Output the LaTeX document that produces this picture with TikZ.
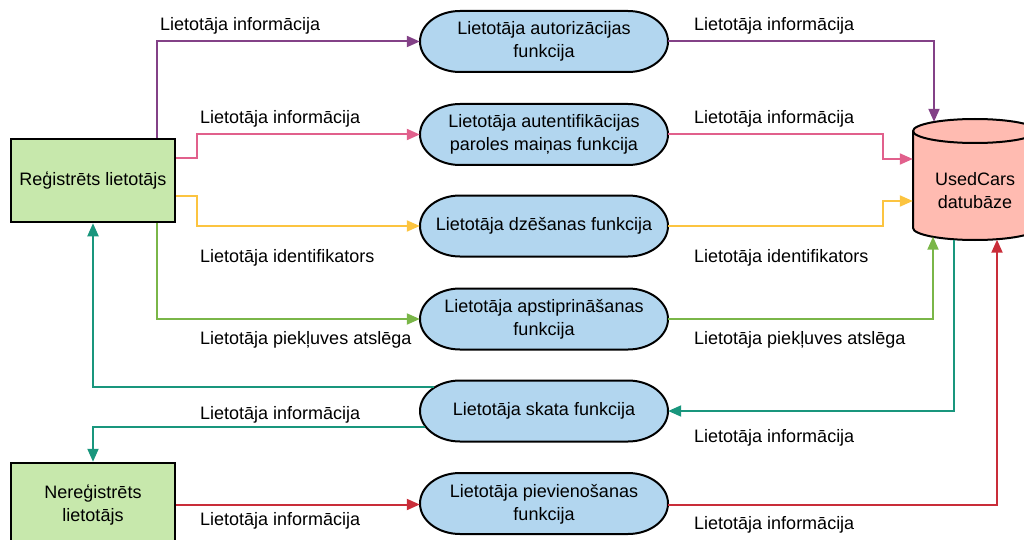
\documentclass[tikz,border=0pt]{standalone}
\usepackage{fontspec}
\setmainfont{Liberation Sans}
\usetikzlibrary{arrows.meta}
\usetikzlibrary{positioning}
\definecolor{flow-purple}{RGB}{131, 65, 135}
\definecolor{flow-pink}{RGB}{225, 96, 140}
\definecolor{flow-yellow}{RGB}{252, 196, 64}
\definecolor{flow-green}{RGB}{122, 182, 72}
\definecolor{flow-teal}{RGB}{25, 150, 125}
\definecolor{flow-red}{RGB}{201, 45, 57}
\definecolor{user-green}{RGB}{199, 232, 172}
\definecolor{func-blue}{RGB}{178, 214, 239}
\definecolor{db-red}{RGB}{255, 187, 177}

\begin{document}
\begin{tikzpicture}[x=1pt, y=-1pt,
    txt/.style={font=\fontsize{18}{23}\selectfont},
    user/.style={txt, draw=black, line width=2.5pt, fill=user-green, minimum width=164, minimum height=83, align=center},
    func/.style={txt, minimum width=248, minimum height=61, align=center},
    lbl/.style={txt, inner sep=0pt, anchor=west},
    flow/.style={line width=2pt, -{Triangle[length=13pt, width=11pt]}}]
\useasboundingbox (0,0) rectangle (1024,540);
\clip (0,0) rectangle (1024,540);
% function shapes
\foreach \cy in {41.5, 134.5, 226, 319, 411, 503.5}
    \filldraw[fill=func-blue, draw=black, line width=2pt] (460,\cy-30.5) -- (628,\cy-30.5) arc[start angle=-90, end angle=90, x radius=40, y radius=30.5] -- (460,\cy+30.5) arc[start angle=90, end angle=270, x radius=40, y radius=30.5] -- cycle;
% database
\filldraw[fill=db-red, draw=black, line width=2pt] (913,131) -- (913,228) arc[start angle=180, end angle=0, x radius=62, y radius=12] -- (1037,131) arc[start angle=0, end angle=-180, x radius=62, y radius=12] -- cycle;
\draw[line width=2pt] (913,131) arc[start angle=180, end angle=0, x radius=62, y radius=12];
\node[txt, minimum width=124, minimum height=97, align=center] (db) at (975,191) {UsedCars\\datubāze};

\node[user] (reg) at (93,180.5) {Reģistrēts lietotājs};
\node[user] (nereg) at (93,504.5) {Nereģistrēts\\lietotājs};

\node[func] (autor) at (544,41.5) {Lietotāja autorizācijas\\funkcija};
\node[func] (autent) at (544,134.5) {Lietotāja autentifikācijas\\paroles maiņas funkcija};
\node[func] (dzes) at (544,226) {Lietotāja dzēšanas funkcija};
\node[func] (apst) at (544,319) {Lietotāja apstiprināšanas\\funkcija};
\node[func] (skata) at (544,411) {Lietotāja skata funkcija};
\node[func] (piev) at (544,504.5) {Lietotāja pievienošanas\\funkcija};

% connectors
\draw[flow, flow-purple] ([xshift=64]reg.north) |- (autor.west);
\draw[flow, flow-purple] (autor.east) -| ([xshift=-41, yshift=20.5]db.north);
\draw[flow, flow-pink] ([yshift=22.5]reg.east) -- ++(21,0) |- (autent.west);
\draw[flow, flow-pink] (autent.east) -- ++(215,0) |- ([yshift=32]db.west);
\draw[flow, flow-yellow] ([yshift=-15.5]reg.east) -- ++(21,0) |- (dzes.west);
\draw[flow, flow-yellow] (dzes.east) -- ++(215,0) |- ([yshift=-10]db.west);
\draw[flow, flow-green] ([xshift=64]reg.south) |- (apst.west);
\draw[flow, flow-green] (apst.east) -| ([xshift=-42, yshift=3]db.south);
\draw[flow, flow-teal] ([xshift=-21]db.south) |- (skata.east);
\draw[flow, flow-teal] ([xshift=14.6, yshift=24]skata.west) -| (reg.south);
\draw[flow, flow-teal] ([xshift=5.6, yshift=-16]skata.west) -| (nereg.north);
\draw[flow, flow-red] (nereg.east) -- (piev.west);
\draw[flow, flow-red] (piev.east) -| ([xshift=22]db.south);

% labels
\node[lbl] (l1) at (160,26) {Lietotāja informācija};
\node[lbl] (r1) at (694,26) {Lietotāja informācija};
\node[lbl] (l2) at (200,119) {Lietotāja informācija};
\node[lbl] (r2) at (694,119) {Lietotāja informācija};
\node[lbl] (l3) at (200,258) {Lietotāja identifikators};
\node[lbl] (r3) at (694,258) {Lietotāja identifikators};
\node[lbl] (l4) at (200,340) {Lietotāja piekļuves atslēga};
\node[lbl] (r4) at (694,340) {Lietotāja piekļuves atslēga};
\node[lbl] (l5) at (200,415) {Lietotāja informācija};
\node[lbl] (r5) at (694,438) {Lietotāja informācija};
\node[lbl] (l6) at (200,521) {Lietotāja informācija};
\node[lbl] (r6) at (694,525) {Lietotāja informācija};
\end{tikzpicture}
\end{document}
